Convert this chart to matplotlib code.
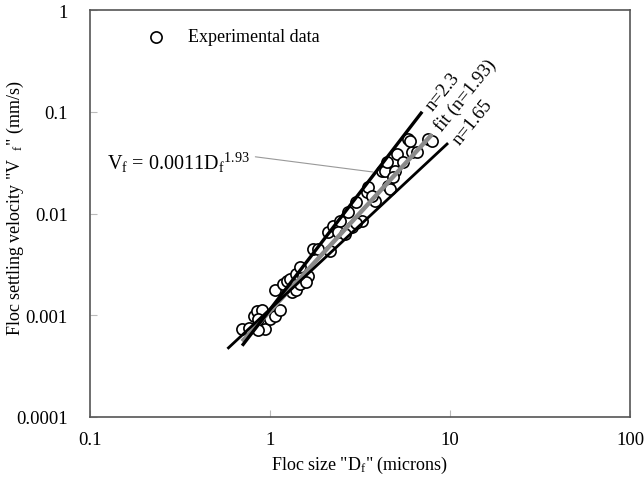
import numpy as np
import matplotlib
matplotlib.use('Agg')
from matplotlib import pyplot as plt

plt.rcParams['font.family'] = ['Liberation Serif', 'DejaVu Serif']
plt.rcParams['mathtext.fontset'] = 'custom'
plt.rcParams['mathtext.rm'] = 'Liberation Serif'
plt.rcParams['mathtext.it'] = 'Liberation Serif:italic'

# experimental data (floc size in microns, settling velocity in mm/s)
size_um = [0.70, 0.76, 0.94, 0.86, 0.81, 0.85, 0.90, 0.86, 1.00, 1.07,
           1.14, 1.07, 1.18, 1.24, 1.32, 1.40, 1.47, 1.29, 1.40, 1.52,
           1.62, 1.58, 1.47, 1.73, 1.84, 2.15, 2.09, 2.24, 2.45, 2.39,
           2.72, 3.02, 3.24, 2.87, 2.61, 3.00, 3.46, 3.52, 3.83, 3.70,
           4.50, 4.64, 4.20, 4.35, 4.95, 4.80, 4.46, 5.07, 5.50, 6.14,
           6.55, 5.85, 5.99, 7.56, 7.95]
velocity = [0.00073, 0.00075, 0.00073, 0.00071, 0.00099, 0.00109, 0.00112, 0.00092, 0.00092, 0.00099,
            0.00112, 0.00176, 0.00203, 0.00215, 0.00170, 0.00176, 0.00203, 0.00227, 0.00254, 0.00245,
            0.00245, 0.00210, 0.00300, 0.00448, 0.00448, 0.00430, 0.0066, 0.0075, 0.0084, 0.0066,
            0.0103, 0.0130, 0.0084, 0.0073, 0.0063, 0.0080, 0.0163, 0.0181, 0.0133, 0.0149,
            0.0185, 0.0174, 0.0263, 0.0263, 0.0263, 0.0229, 0.0318, 0.0385, 0.0318, 0.0400,
            0.0400, 0.054, 0.052, 0.054, 0.052]

# power laws V = a * D^n
line_names = ['n=2.3', 'fit (n=1.93)', 'n=1.65']
line_n = [2.3, 1.93, 1.65]
line_a = [0.00114, 0.0011, 0.00115]
line_xmin = [0.70, 0.70, 0.58]
line_xmax = [7.0, 7.95, 9.75]
line_colors = ['black', '#8a8a8a', 'black']
line_widths = [2.4, 3.2, 2.0]
label_pos = [(8.3, 0.096), (9.4, 0.060), (11.8, 0.045)]

fig = plt.figure(figsize=(6.44, 4.81), dpi=100)
ax = fig.add_axes([0.1398, 0.131, 0.8385, 0.846])

ax.scatter(size_um, velocity, s=65, facecolors='white', edgecolors='black',
           linewidths=1.2, zorder=2, label='Experimental data')

for i in range(3):
    xs = np.logspace(np.log10(line_xmin[i]), np.log10(line_xmax[i]), 50)
    ax.plot(xs, line_a[i] * xs ** line_n[i], color=line_colors[i],
            lw=line_widths[i], zorder=3 if i == 1 else 4, solid_capstyle='butt')
    ax.text(label_pos[i][0], label_pos[i][1], line_names[i], rotation=51,
            rotation_mode='anchor', ha='left', va='bottom', fontsize=13.5)

ax.annotate(r'V$_\mathrm{f}$ = 0.0011D$_\mathrm{f}$$^{1.93}$', xy=(3.73, 0.0256),
            xytext=(0.124, 0.032), fontsize=14.5, va='center', ha='left',
            arrowprops=dict(arrowstyle='-', color='#999999', lw=0.8,
                            relpos=(1.0, 0.75), shrinkA=2, shrinkB=0))

ax.set_xscale('log')
ax.set_yscale('log')
ax.set_xlim(0.1, 100)
ax.set_ylim(0.0001, 1)
ax.set_xticks([0.1, 1, 10, 100])
ax.set_xticklabels(['0.1', '1', '10', '100'])
ax.set_yticks([0.0001, 0.001, 0.01, 0.1, 1])
ax.set_yticklabels(['0.0001', '0.001', '0.01', '0.1', '1'])
ax.minorticks_off()
ax.tick_params(direction='in', length=5, width=0.8, color='#bbbbbb',
               labelsize=13.5)
ax.tick_params(axis='x', pad=10)
ax.tick_params(axis='y', pad=16)
for sp in ax.spines.values():
    sp.set_color('#555555')
    sp.set_linewidth(1.2)

ax.set_xlabel('Floc size "D$_\\mathrm{f}$" (microns)', fontsize=13, labelpad=4)
ax.set_ylabel('Floc settling velocity "V  $_\\mathrm{f}$" (mm/s)', fontsize=13)
ax.yaxis.set_label_coords(-0.118, 0.515)

ax.legend(loc='upper left', bbox_to_anchor=(0.058, 0.995), frameon=False,
          fontsize=13, handletextpad=0.8, scatterpoints=1)

fig.savefig('out.png', dpi=100)
